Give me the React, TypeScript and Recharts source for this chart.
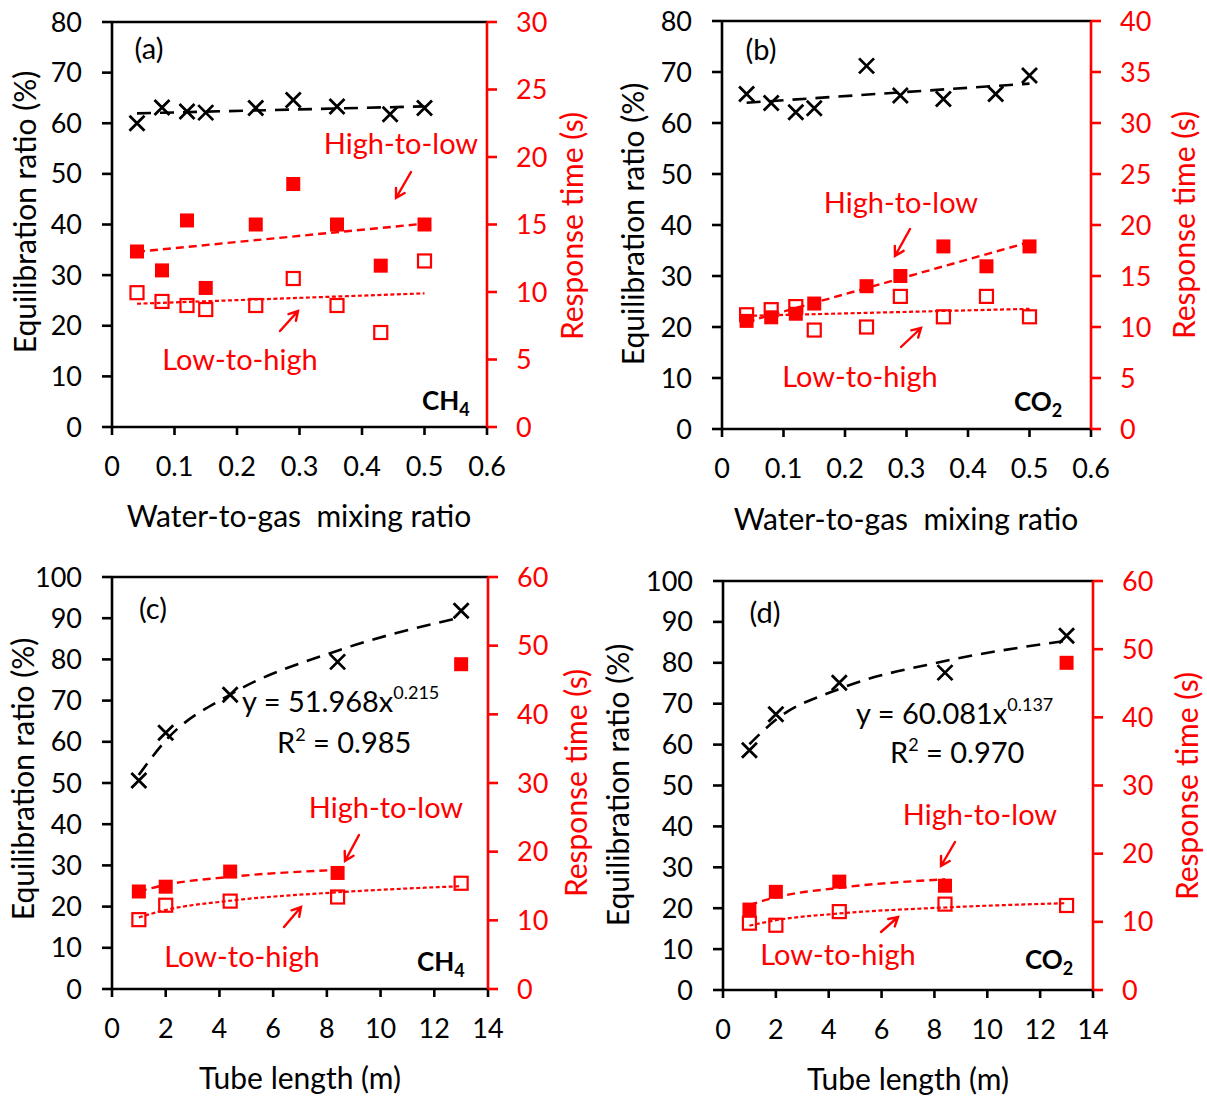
import React from 'react';
import {
  ComposedChart,
  Scatter,
  Line,
  XAxis,
  YAxis,
  ReferenceLine,
} from 'recharts';

const FONT = 'Lato, "Open Sans", sans-serif';
const RED = '#ff0000';

// axis ticks
const mixTicks = [0, 0.1, 0.2, 0.3, 0.4, 0.5, 0.6];
const tubeTicks = [0, 2, 4, 6, 8, 10, 12, 14];
const eqTicks80 = [0, 10, 20, 30, 40, 50, 60, 70, 80];
const eqTicks100 = [0, 10, 20, 30, 40, 50, 60, 70, 80, 90, 100];
const respTicks30 = [0, 5, 10, 15, 20, 25, 30];
const respTicks40 = [0, 5, 10, 15, 20, 25, 30, 35, 40];
const respTicks60 = [0, 10, 20, 30, 40, 50, 60];

// (a) CH4, water-to-gas mixing ratio
const aEqX = [0.04, 0.08, 0.12, 0.15, 0.23, 0.29, 0.36, 0.445, 0.5];
const aEq = [60.0, 63.1, 62.3, 62.1, 63.0, 64.6, 63.3, 61.8, 63.0];
const aRespX = [0.04, 0.08, 0.12, 0.15, 0.23, 0.29, 0.36, 0.43, 0.5];
const aHigh = [13.0, 11.6, 15.3, 10.3, 15.0, 18.0, 15.0, 11.95, 15.0];
const aLow = [9.95, 9.3, 9.0, 8.7, 9.0, 11.0, 9.0, 7.0, 12.3];

// (b) CO2, water-to-gas mixing ratio
const bEqX = [0.04, 0.08, 0.12, 0.15, 0.235, 0.29, 0.36, 0.445, 0.5];
const bEq = [65.7, 63.9, 62.1, 62.9, 71.2, 65.4, 64.7, 65.7, 69.3];
const bRespX = [0.04, 0.08, 0.12, 0.15, 0.235, 0.29, 0.36, 0.43, 0.5];
const bHigh = [10.6, 10.95, 11.3, 12.3, 14.0, 15.0, 17.9, 15.95, 17.9];
const bLow = [11.2, 11.7, 12.0, 9.7, 10.0, 13.0, 11.0, 13.0, 11.0];

// (c) CH4 and (d) CO2, tube length
const tubeLen = [1, 2, 4.4, 8.4, 13];
const cEq = [50.6, 62.2, 71.4, 79.4, 91.8];
const cHigh = [14.2, 14.9, 17.1, 16.9, 47.3];
const cLow = [10.1, 12.2, 12.8, 13.4, 15.4];
const dEq = [58.6, 67.4, 75.1, 77.6, 86.6];
const dHigh = [11.8, 14.4, 15.9, 15.3, 48.0];
const dLow = [9.8, 9.5, 11.5, 12.6, 12.4];

// power fits printed on the figure
const cFit = [51.968, 0.215];
const dFit = [60.081, 0.137];

type Pt = { x: number; y: number };

const pts = (xs: number[], ys: number[]): Pt[] => xs.map((x, i) => ({ x, y: ys[i] }));

function linTrend(xs: number[], ys: number[]): Pt[] {
  const n = xs.length;
  const mx = xs.reduce((s, v) => s + v, 0) / n;
  const my = ys.reduce((s, v) => s + v, 0) / n;
  let sxy = 0;
  let sxx = 0;
  xs.forEach((x, i) => {
    sxy += (x - mx) * (ys[i] - my);
    sxx += (x - mx) * (x - mx);
  });
  const b = sxy / sxx;
  const a = my - b * mx;
  const ends = [xs[0], xs[n - 1]];
  return ends.map((x) => ({ x, y: a + b * x }));
}

function powCoef(xs: number[], ys: number[]): number[] {
  const lx = xs.map(Math.log);
  const ly = ys.map(Math.log);
  const n = xs.length;
  const mx = lx.reduce((s, v) => s + v, 0) / n;
  const my = ly.reduce((s, v) => s + v, 0) / n;
  let sxy = 0;
  let sxx = 0;
  lx.forEach((x, i) => {
    sxy += (x - mx) * (ly[i] - my);
    sxx += (x - mx) * (x - mx);
  });
  const b = sxy / sxx;
  return [Math.exp(my - b * mx), b];
}

const powTrend = (xs: number[], coef: number[]): Pt[] =>
  xs.map((x) => ({ x, y: coef[0] * Math.pow(x, coef[1]) }));

const Cross = (p: any) => {
  const { cx, cy } = p;
  const r = 7.5;
  return (
    <path
      d={`M${cx - r},${cy - r}L${cx + r},${cy + r}M${cx - r},${cy + r}L${cx + r},${cy - r}`}
      stroke="#000"
      strokeWidth={2.8}
      fill="none"
    />
  );
};

const FilledSq = (p: any) => (
  <rect x={p.cx - 7} y={p.cy - 7} width={14} height={14} fill={RED} />
);

const OpenSq = (p: any) => (
  <rect x={p.cx - 6.5} y={p.cy - 6.5} width={13} height={13} fill="none" stroke={RED} strokeWidth={2.2} />
);

interface PanelProps {
  left: number;
  top: number;
  width: number;
  height: number;
  margin: { top: number; right: number; bottom: number; left: number };
  xTicks: number[];
  eqTicks: number[];
  respTicks: number[];
  eq: Pt[];
  high: Pt[];
  low: Pt[];
  eqTrend: Pt[];
  highTrend: Pt[];
  lowTrend: Pt[];
  curved?: boolean;
}

const TICK = 27;

function Panel(props: PanelProps) {
  const {
    left, top, width, height, margin, xTicks, eqTicks, respTicks,
    eq, high, low, eqTrend, highTrend, lowTrend, curved,
  } = props;
  const eqMax = eqTicks[eqTicks.length - 1];
  const rMax = respTicks[respTicks.length - 1];
  const xMax = xTicks[xTicks.length - 1];
  const lineType = curved ? 'monotone' : 'linear';
  return (
    <div style={{ position: 'absolute', left, top, width, height }}>
      <ComposedChart width={width} height={height} margin={margin}>
        <XAxis
          type="number"
          dataKey="x"
          domain={[0, xMax]}
          ticks={xTicks}
          allowDataOverflow
          height={60}
          axisLine={{ stroke: '#000', strokeWidth: 2.6 }}
          tickLine={{ stroke: '#000', strokeWidth: 2.6 }}
          tickSize={8}
          tickMargin={22}
          tick={{ fill: '#000', fontSize: TICK, fontFamily: FONT }}
        />
        <YAxis
          yAxisId="left"
          orientation="left"
          type="number"
          domain={[0, eqMax]}
          ticks={eqTicks}
          allowDataOverflow
          width={60}
          axisLine={{ stroke: '#000', strokeWidth: 2.6 }}
          tickLine={{ stroke: '#000', strokeWidth: 2.6 }}
          tickSize={10}
          tickMargin={20}
          tick={{ fill: '#000', fontSize: TICK, fontFamily: FONT }}
        />
        <YAxis
          yAxisId="right"
          orientation="right"
          type="number"
          domain={[0, rMax]}
          ticks={respTicks}
          allowDataOverflow
          width={60}
          axisLine={{ stroke: RED, strokeWidth: 2.6 }}
          tickLine={{ stroke: RED, strokeWidth: 2.6 }}
          tickSize={10}
          tickMargin={19}
          tick={{ fill: RED, fontSize: TICK, fontFamily: FONT }}
        />
        <ReferenceLine yAxisId="left" y={eqMax} stroke="#000" strokeWidth={2.6} />
        <Scatter yAxisId="right" data={low} dataKey="y" shape={OpenSq} isAnimationActive={false} />
        <Scatter yAxisId="right" data={high} dataKey="y" shape={FilledSq} isAnimationActive={false} />
        <Scatter yAxisId="left" data={eq} dataKey="y" shape={Cross} isAnimationActive={false} />
        <Line
          yAxisId="left"
          data={eqTrend}
          dataKey="y"
          type={lineType}
          stroke="#000"
          strokeWidth={2.6}
          strokeDasharray="14 9"
          dot={false}
          activeDot={false}
          isAnimationActive={false}
        />
        <Line
          yAxisId="right"
          data={highTrend}
          dataKey="y"
          type={lineType}
          stroke={RED}
          strokeWidth={2.4}
          strokeDasharray="8 5"
          dot={false}
          activeDot={false}
          isAnimationActive={false}
        />
        <Line
          yAxisId="right"
          data={lowTrend}
          dataKey="y"
          type={lineType}
          stroke={RED}
          strokeWidth={2.2}
          strokeDasharray="4 2.5"
          dot={false}
          activeDot={false}
          isAnimationActive={false}
        />
      </ComposedChart>
    </div>
  );
}

function Arrow({ x1, y1, x2, y2 }: { x1: number; y1: number; x2: number; y2: number }) {
  const dx = x2 - x1;
  const dy = y2 - y1;
  const len = Math.hypot(dx, dy);
  const ux = dx / len;
  const uy = dy / len;
  const L = 10;
  const a = Math.PI / 6;
  const h1x = x2 - L * (ux * Math.cos(a) - uy * Math.sin(a));
  const h1y = y2 - L * (uy * Math.cos(a) + ux * Math.sin(a));
  const h2x = x2 - L * (ux * Math.cos(a) + uy * Math.sin(a));
  const h2y = y2 - L * (uy * Math.cos(a) - ux * Math.sin(a));
  return (
    <path
      d={`M${x1},${y1}L${x2},${y2}M${h1x},${h1y}L${x2},${y2}L${h2x},${h2y}`}
      stroke={RED}
      strokeWidth={2.4}
      fill="none"
      strokeLinecap="round"
    />
  );
}

const T = 29; // annotation text size
const TITLE = 30;

function Txt({ x, cy, children, anchor = 'middle', fill = '#000', size = T, weight = 400, rotate = false }: any) {
  const base = cy + size * 0.36;
  if (rotate) {
    return (
      <text
        transform={`translate(${x},${cy}) rotate(-90)`}
        x={0}
        y={size * 0.36}
        textAnchor="middle"
        fill={fill}
        fontSize={size}
        fontFamily={FONT}
      >
        {children}
      </text>
    );
  }
  return (
    <text
      x={x}
      y={base}
      textAnchor={anchor}
      fill={fill}
      fontSize={size}
      fontFamily={FONT}
      fontWeight={weight}
      style={{ whiteSpace: 'pre' }}
    >
      {children}
    </text>
  );
}

function Formula({ x, cy, sub }: { x: number; cy: number; sub: string }) {
  return (
    <text x={x} y={cy + 26 * 0.36} fontSize={26} fontFamily={FONT} fontWeight={700} fill="#000">
      {sub === '4' ? 'CH' : 'CO'}
      <tspan fontSize={18} dy={6}>{sub}</tspan>
    </text>
  );
}

function Eqn({ x, cy, a, b }: { x: number; cy: number; a: string; b: string }) {
  const base = cy + T * 0.36;
  return (
    <text x={x} y={base} fontSize={T} fontFamily={FONT} fill="#000">
      {`y = ${a}x`}
      <tspan fontSize={18} dy={-13}>{b}</tspan>
    </text>
  );
}

function R2({ x, cy, r2 }: { x: number; cy: number; r2: string }) {
  const base = cy + T * 0.36;
  return (
    <text x={x} y={base} fontSize={T} fontFamily={FONT} fill="#000">
      R
      <tspan fontSize={18} dy={-12}>2</tspan>
      <tspan fontSize={T} dy={12}>{` = ${r2}`}</tspan>
    </text>
  );
}

const MIX_TITLE = 'Water-to-gas\u00a0\u00a0mixing ratio';

function Overlay() {
  return (
    <svg
      width={1207}
      height={1097}
      style={{ position: 'absolute', left: 0, top: 0, pointerEvents: 'none' }}
    >
      {/* axis titles */}
      <Txt x={25} cy={212} size={TITLE} rotate>Equilibration ratio (%)</Txt>
      <Txt x={572} cy={226} size={TITLE} fill={RED} rotate>Response time (s)</Txt>
      <Txt x={299} cy={516} size={TITLE}>{MIX_TITLE}</Txt>
      <Txt x={633} cy={224} size={TITLE} rotate>Equilibration ratio (%)</Txt>
      <Txt x={1184} cy={225} size={TITLE} fill={RED} rotate>Response time (s)</Txt>
      <Txt x={906} cy={519} size={TITLE}>{MIX_TITLE}</Txt>
      <Txt x={23} cy={779} size={TITLE} rotate>Equilibration ratio (%)</Txt>
      <Txt x={576} cy={783} size={TITLE} fill={RED} rotate>Response time (s)</Txt>
      <Txt x={300} cy={1078} size={TITLE}>Tube length (m)</Txt>
      <Txt x={618} cy={785} size={TITLE} rotate>Equilibration ratio (%)</Txt>
      <Txt x={1187} cy={786} size={TITLE} fill={RED} rotate>Response time (s)</Txt>
      <Txt x={908} cy={1079} size={TITLE}>Tube length (m)</Txt>

      {/* (a) */}
      <Txt x={149} cy={49}>(a)</Txt>
      <Txt x={401} cy={144} fill={RED}>High-to-low</Txt>
      <Txt x={240} cy={360} fill={RED}>Low-to-high</Txt>
      <Arrow x1={411} y1={172} x2={396} y2={198} />
      <Arrow x1={280} y1={331} x2={298} y2={311} />
      <Formula x={422} cy={401} sub="4" />

      {/* (b) */}
      <Txt x={761} cy={50}>(b)</Txt>
      <Txt x={901} cy={203} fill={RED}>High-to-low</Txt>
      <Txt x={860} cy={377} fill={RED}>Low-to-high</Txt>
      <Arrow x1={910} y1={229} x2={895} y2={256} />
      <Arrow x1={901} y1={347} x2={921} y2={328} />
      <Formula x={1014} cy={402} sub="2" />

      {/* (c) */}
      <Txt x={153} cy={609}>(c)</Txt>
      <Eqn x={242} cy={702} a="51.968" b="0.215" />
      <R2 x={277} cy={743} r2="0.985" />
      <Txt x={386} cy={808} fill={RED}>High-to-low</Txt>
      <Txt x={242} cy={957} fill={RED}>Low-to-high</Txt>
      <Arrow x1={359} y1={835} x2={345} y2={861} />
      <Arrow x1={284} y1={927} x2={301} y2={907} />
      <Formula x={417} cy={962} sub="4" />

      {/* (d) */}
      <Txt x={765} cy={613}>(d)</Txt>
      <Eqn x={856} cy={714} a="60.081" b="0.137" />
      <R2 x={890} cy={753} r2="0.970" />
      <Txt x={980} cy={815} fill={RED}>High-to-low</Txt>
      <Txt x={838} cy={955} fill={RED}>Low-to-high</Txt>
      <Arrow x1={955} y1={842} x2={941} y2={866} />
      <Arrow x1={881} y1={932} x2={898} y2={917} />
      <Formula x={1025} cy={960} sub="2" />
    </svg>
  );
}

export default function App() {
  const fit4 = tubeLen.slice(0, 4);
  return (
    <div style={{ position: 'absolute', left: 0, top: 0, width: 1207, height: 1097, background: '#fff', overflow: 'hidden' }}>
      <Panel
        left={0}
        top={0}
        width={600}
        height={550}
        margin={{ top: 22, right: 53, bottom: 63, left: 52 }}
        xTicks={mixTicks}
        eqTicks={eqTicks80}
        respTicks={respTicks30}
        eq={pts(aEqX, aEq)}
        high={pts(aRespX, aHigh)}
        low={pts(aRespX, aLow)}
        eqTrend={linTrend(aEqX, aEq)}
        highTrend={linTrend(aRespX, aHigh)}
        lowTrend={linTrend(aRespX, aLow)}
      />
      <Panel
        left={610}
        top={0}
        width={595}
        height={550}
        margin={{ top: 21, right: 54, bottom: 61, left: 52 }}
        xTicks={mixTicks}
        eqTicks={eqTicks80}
        respTicks={respTicks40}
        eq={pts(bEqX, bEq)}
        high={pts(bRespX, bHigh)}
        low={pts(bRespX, bLow)}
        eqTrend={linTrend(bEqX, bEq)}
        highTrend={linTrend(bRespX, bHigh)}
        lowTrend={linTrend(bRespX, bLow)}
      />
      <Panel
        left={0}
        top={550}
        width={600}
        height={547}
        margin={{ top: 27, right: 52, bottom: 48, left: 52 }}
        xTicks={tubeTicks}
        eqTicks={eqTicks100}
        respTicks={respTicks60}
        eq={pts(tubeLen, cEq)}
        high={pts(tubeLen, cHigh)}
        low={pts(tubeLen, cLow)}
        eqTrend={powTrend(tubeLen, cFit)}
        highTrend={powTrend(fit4, powCoef(fit4, cHigh.slice(0, 4)))}
        lowTrend={powTrend(tubeLen, powCoef(tubeLen, cLow))}
        curved
      />
      <Panel
        left={610}
        top={550}
        width={595}
        height={547}
        margin={{ top: 31, right: 52, bottom: 47, left: 53 }}
        xTicks={tubeTicks}
        eqTicks={eqTicks100}
        respTicks={respTicks60}
        eq={pts(tubeLen, dEq)}
        high={pts(tubeLen, dHigh)}
        low={pts(tubeLen, dLow)}
        eqTrend={powTrend(tubeLen, dFit)}
        highTrend={powTrend(fit4, powCoef(fit4, dHigh.slice(0, 4)))}
        lowTrend={powTrend(tubeLen, powCoef(tubeLen, dLow))}
        curved
      />
      <Overlay />
    </div>
  );
}
